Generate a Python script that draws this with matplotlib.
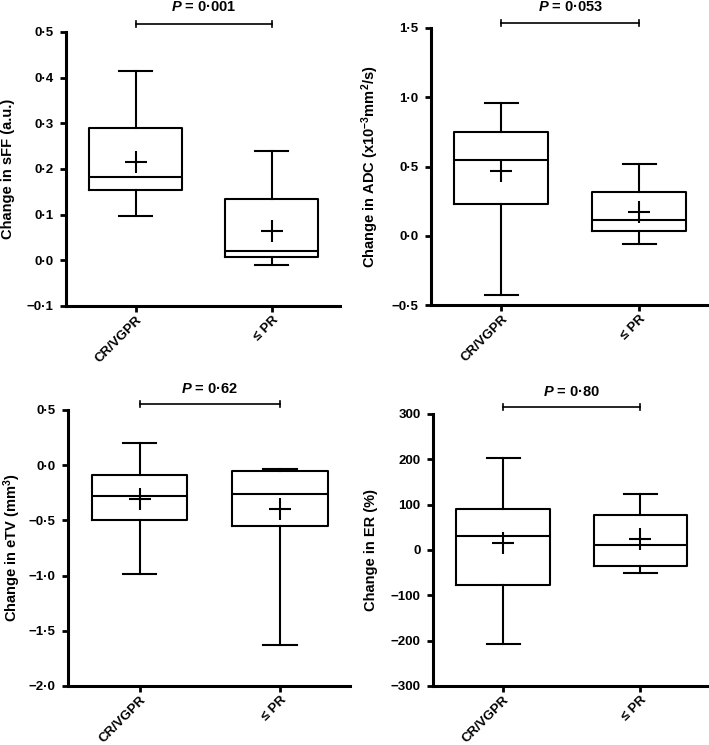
import matplotlib
matplotlib.use("Agg")
import matplotlib.pyplot as plt
from matplotlib.ticker import FuncFormatter, MultipleLocator
import matplotlib.transforms as mtrans

plt.rcParams['font.family'] = ['Liberation Sans', 'DejaVu Sans']
plt.rcParams['font.weight'] = 'bold'
plt.rcParams['mathtext.fontset'] = 'custom'
plt.rcParams['mathtext.rm'] = 'Liberation Sans:bold'
plt.rcParams['mathtext.it'] = 'Liberation Sans:italic:bold'
plt.rcParams['mathtext.bf'] = 'Liberation Sans:bold'

categories = ["CR/VGPR", "≤ PR"]

# stats per panel: [whislo, q1, med, q3, whishi, mean] for each category
sff_stats = [[0.098, 0.153, 0.182, 0.290, 0.415, 0.216],
             [-0.010, 0.007, 0.021, 0.134, 0.240, 0.064]]
adc_stats = [[-0.429, 0.229, 0.546, 0.746, 0.956, 0.467],
             [-0.058, 0.031, 0.111, 0.315, 0.518, 0.173]]
etv_stats = [[-0.981, -0.500, -0.281, -0.086, 0.203, -0.308],
             [-1.627, -0.552, -0.263, -0.053, -0.032, -0.401]]
er_stats = [[-207, -78, 30, 91, 202, 15],
            [-51, -35, 11, 78, 124, 25]]

p_labels = ["0·001", "0·053", "0·62", "0·80"]
y_labels = ["Change in sFF (a.u.)",
            "Change in ADC (x10$^{-3}$mm$^{2}$/s)",
            "Change in eTV (mm$^{3}$)",
            "Change in ER (%)"]
y_limits = [(-0.1, 0.5), (-0.5, 1.5), (-2.0, 0.5), (-300, 300)]
y_steps = [0.1, 0.5, 0.5, 100]
y_decimals = [1, 1, 1, 0]

panels = [sff_stats, adc_stats, etv_stats, er_stats]
W, H = 709, 745
rects_px = [(66, 32, 340, 306), (431, 28, 708, 305),
            (68, 410, 350, 686), (433, 414, 709, 686)]
label_x_px = [15, 381, 23, 378]
bracket_off = [8, 5, 6, 7]
ptext_off = [25, 21, 21, 22]

fig = plt.figure(figsize=(W / 100, H / 100), dpi=100)

for i, stats in enumerate(panels):
    l, t, r, b = rects_px[i]
    ax = fig.add_axes([l / W, 1 - b / H, (r - l) / W, (b - t) / H])
    bxp_stats = []
    for j, s in enumerate(stats):
        bxp_stats.append(dict(whislo=s[0], q1=s[1], med=s[2], q3=s[3],
                              whishi=s[4], mean=s[5], fliers=[], label=categories[j]))
    lw = 1.5
    ax.bxp(bxp_stats, positions=[0, 1], widths=0.68, capwidths=0.24,
           showmeans=True, showfliers=False, patch_artist=False,
           boxprops=dict(color='black', linewidth=lw),
           whiskerprops=dict(color='black', linewidth=lw),
           capprops=dict(color='black', linewidth=lw),
           medianprops=dict(color='black', linewidth=lw),
           meanprops=dict(marker='+', markersize=16, markeredgecolor='black',
                          markeredgewidth=1.5, linestyle='none'))
    ax.set_xlim(-0.51, 1.5)
    ax.set_ylim(*y_limits[i])
    ax.yaxis.set_major_locator(MultipleLocator(y_steps[i]))
    dec = y_decimals[i]

    def fmt(v, pos, dec=dec):
        s = f"{abs(v):.{dec}f}".replace('.', '·')
        if round(v, 6) < 0:
            s = "−" + s
        return s
    ax.yaxis.set_major_formatter(FuncFormatter(fmt))
    for sp in ['top', 'right']:
        ax.spines[sp].set_visible(False)
    for sp in ['left', 'bottom']:
        ax.spines[sp].set_linewidth(2.2)
    ax.tick_params(axis='both', direction='out', width=2, length=4, colors='black')
    ax.tick_params(axis='y', labelsize=9.5, pad=5)
    ax.tick_params(axis='x', labelsize=9.5, pad=2)
    ax.set_xticks([0, 1])
    ax.set_xticklabels(categories, rotation=45, ha='right', rotation_mode='anchor',
                       fontweight='bold')
    for lab in ax.get_yticklabels():
        lab.set_fontweight('bold')
    ax.set_ylabel(y_labels[i], fontsize=10.5, fontweight='bold')
    ax.yaxis.set_label_coords((label_x_px[i] - l) / (r - l), 0.5)

    trans = mtrans.blended_transform_factory(ax.transData, ax.transAxes)
    off_b = mtrans.offset_copy(trans, fig=fig, x=0, y=bracket_off[i], units='dots')
    ax.plot([0, 1], [1, 1], color='black', lw=1.2, transform=off_b, clip_on=False)
    for xx in [0, 1]:
        ax.plot([xx, xx], [0.988, 1.012], color='black', lw=1.2,
                transform=off_b, clip_on=False)
    off_t = mtrans.offset_copy(trans, fig=fig, x=0, y=ptext_off[i], units='dots')
    ax.text(0.5, 1.0, "$P$ = " + p_labels[i], transform=off_t, ha='center',
            va='center', fontsize=10.5, fontweight='bold')

fig.savefig("out.png", dpi=100)
